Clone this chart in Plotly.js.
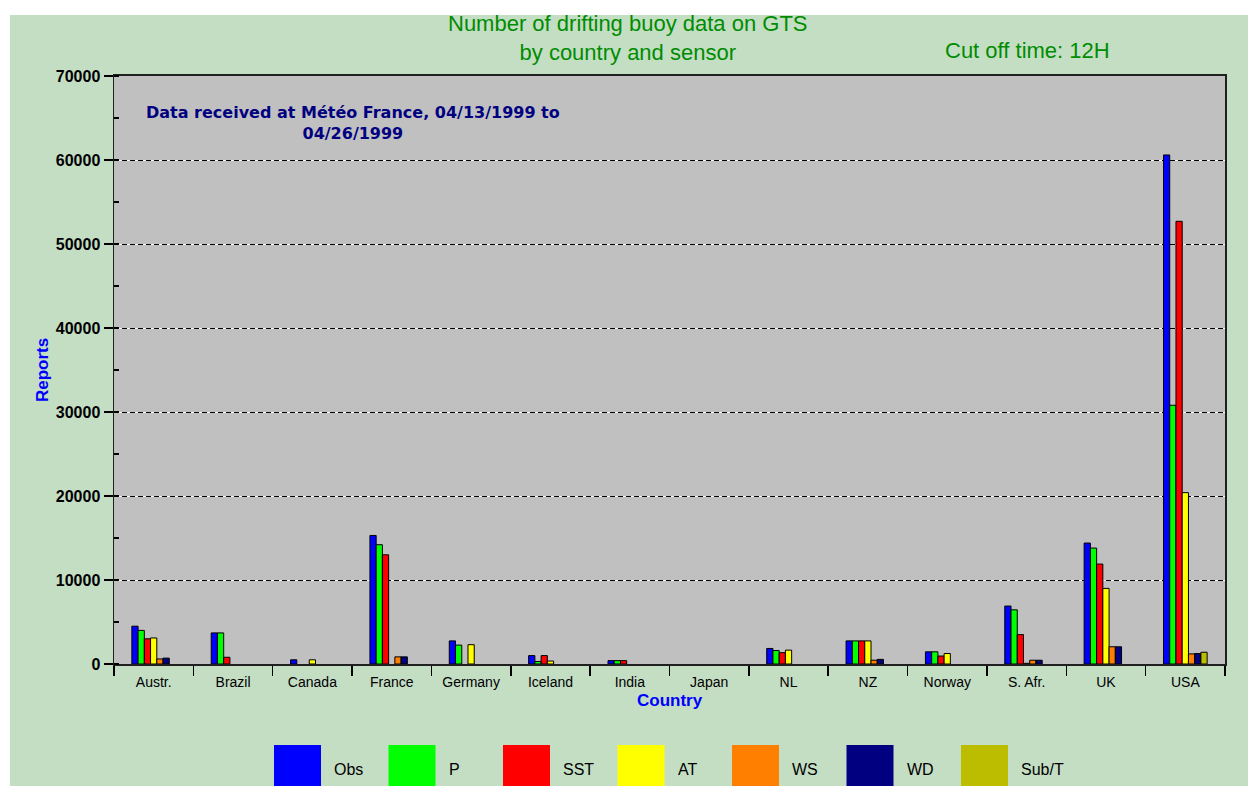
<!DOCTYPE html>
<html>
<head>
<meta charset="utf-8">
<script src="https://cdn.plot.ly/plotly-3.0.1.min.js"></script>
<style>
  html, body { margin: 0; padding: 0; background: #ffffff; width: 1248px; height: 786px; overflow: hidden; }
  #chart { position: absolute; left: 0; top: 0; width: 1248px; height: 786px; }
</style>
</head>
<body>
<div id="chart"></div>
<script>
// ---- data ----
const categories = ['Austr.', 'Brazil', 'Canada', 'France', 'Germany', 'Iceland', 'India', 'Japan', 'NL', 'NZ', 'Norway', 'S. Afr.', 'UK', 'USA'];
const obs  = [4500, 3700, 500, 15300, 2750, 1000, 400, 0, 1850, 2750, 1450, 6900, 14400, 60600];
const p    = [4000, 3700, 0, 14200, 2250, 300, 400, 0, 1600, 2750, 1450, 6450, 13800, 30800];
const sst  = [3000, 800, 0, 13000, 0, 1000, 400, 0, 1350, 2750, 950, 3500, 11900, 52700];
const at   = [3100, 0, 500, 0, 2300, 350, 0, 0, 1650, 2750, 1250, 80, 9000, 20400];
const ws   = [600, 0, 0, 850, 0, 0, 0, 0, 0, 450, 0, 450, 2050, 1200];
const wd   = [700, 0, 0, 850, 0, 0, 0, 0, 0, 550, 0, 450, 2050, 1250];
const subt = [0, 0, 0, 0, 0, 0, 0, 0, 0, 0, 0, 0, 0, 1400];
const seriesNames = ['Obs', 'P', 'SST', 'AT', 'WS', 'WD', 'Sub/T'];
const seriesValues = [obs, p, sst, at, ws, wd, subt];
const seriesColors = ['#0000FF', '#00FF00', '#FF0000', '#FFFF00', '#FF8000', '#000080', '#BDBD00'];
const yTickValues = [0, 10000, 20000, 30000, 40000, 50000, 60000, 70000];

// ---- geometry helpers (page pixels -> paper coords) ----
const PL = 114, PR = 1225, PT = 76, PB = 664;
const px = x => (x - PL) / (PR - PL);
const py = y => (PB - y) / (PB - PT);

const traces = seriesNames.map((name, i) => ({
  type: 'bar',
  name: name,
  x: categories,
  // zero counts are not drawn as bars (as in the original)
  y: seriesValues[i].map(v => (v === 0 ? null : v)),
  marker: { color: seriesColors[i], line: { color: '#000000', width: 1 } },
  showlegend: false,
  hoverinfo: 'x+y+name'
}));
// invisible trace to activate the overlay axis that carries the dashed grid
traces.push({ type: 'scatter', x: [categories[0]], y: [0], yaxis: 'y2', mode: 'markers',
  marker: { opacity: 0 }, showlegend: false, hoverinfo: 'skip' });

const greenText = '#008C00';
const titleFont = { family: 'Liberation Sans, Arial, sans-serif', size: 22, color: greenText };
const annotations = [
  { text: 'Number of drifting buoy data on GTS<br>by country and sensor', x: px(628), y: py(38) },
  { text: 'Cut off time: 12H', x: px(1027), y: py(51) }
].map(a => Object.assign(a, { xref: 'paper', yref: 'paper', xanchor: 'center', yanchor: 'middle',
  align: 'center', showarrow: false, font: titleFont }));

annotations.push({
  text: 'Data received at Météo France, 04/13/1999 to<br>04/26/1999',
  x: px(353), y: py(122.5), xref: 'paper', yref: 'paper', xanchor: 'center', yanchor: 'middle',
  showarrow: false, align: 'center',
  font: { family: 'DejaVu Sans, sans-serif', size: 16, color: '#000080', weight: 'bold' }
});
annotations.push({
  text: 'Country', x: 0.5, y: py(700), xref: 'paper', yref: 'paper', xanchor: 'center', yanchor: 'middle',
  showarrow: false, font: { family: 'Liberation Sans, Arial, sans-serif', size: 17, color: '#0000FF', weight: 'bold' }
});
annotations.push({
  text: 'Reports', x: px(42), y: 0.5, xref: 'paper', yref: 'paper', xanchor: 'center', yanchor: 'middle',
  textangle: -90, showarrow: false,
  font: { family: 'Liberation Sans, Arial, sans-serif', size: 17, color: '#0000FF', weight: 'bold' }
});

// white page border around the green chart panel (margin area only)
const shapes = [
  { type: 'rect', xref: 'paper', yref: 'paper', x0: px(0), x1: px(10), y0: py(786), y1: py(0),
    fillcolor: '#FFFFFF', line: { width: 0 }, layer: 'below' },
  { type: 'rect', xref: 'paper', yref: 'paper', x0: px(0), x1: px(1248), y0: py(15), y1: py(0),
    fillcolor: '#FFFFFF', line: { width: 0 }, layer: 'below' }
];
// legend built from series names / colours
seriesNames.forEach((name, i) => {
  const x0 = 274 + 114.5 * i;
  shapes.push({ type: 'rect', xref: 'paper', yref: 'paper', x0: px(x0), x1: px(x0 + 47),
    y0: py(786), y1: py(745), fillcolor: seriesColors[i], line: { width: 0 } });
  annotations.push({ text: name, xref: 'paper', yref: 'paper', x: px(x0 + 58), y: py(769),
    xanchor: 'left', yanchor: 'middle', showarrow: false,
    font: { family: 'Liberation Sans, Arial, sans-serif', size: 16, color: '#000000' } });
});

const layout = {
  width: 1248, height: 786,
  margin: { l: 114, r: 23, t: 76, b: 122, pad: 0 },
  paper_bgcolor: '#C4DEC4',
  plot_bgcolor: '#C0C0C0',
  barmode: 'group',
  bargap: 0.45,
  bargroupgap: 0,
  xaxis: {
    type: 'category',
    range: [-0.5, categories.length - 0.5],
    autorange: false,
    tickson: 'boundaries',
    ticks: 'outside', ticklen: 10, tickcolor: '#000000', tickwidth: 1.5,
    ticklabelstandoff: 4,
    showline: true, linecolor: '#202020', linewidth: 2, mirror: true,
    showgrid: false, zeroline: false,
    tickfont: { family: 'Liberation Sans, Arial, sans-serif', size: 14, color: '#000000' },
    fixedrange: true
  },
  yaxis: {
    range: [0, 70000],
    tickvals: yTickValues,
    ticktext: yTickValues.map(String),
    ticks: 'outside', ticklen: 9, tickcolor: '#000000', tickwidth: 1.5,
    minor: { dtick: 5000, ticks: 'inside', ticklen: 5, tickcolor: '#000000', showgrid: false },
    showline: true, linecolor: '#202020', linewidth: 1.5, mirror: true,
    showgrid: true, gridcolor: '#FFFFFF', gridwidth: 1,
    zeroline: false,
    tickfont: { family: 'Liberation Sans, Arial, sans-serif', size: 16, color: '#000000', weight: 'bold' },
    fixedrange: true
  },
  yaxis2: {
    overlaying: 'y', range: [0, 70000], tickvals: yTickValues.slice(1, -1),
    showticklabels: false, ticks: '', showline: false, zeroline: false,
    showgrid: true, gridcolor: '#000000', gridwidth: 1, griddash: '5px,3px',
    fixedrange: true
  },
  annotations: annotations,
  shapes: shapes,
  showlegend: false
};

Plotly.newPlot('chart', traces, layout, { displayModeBar: false, staticPlot: true });
</script>
</body>
</html>
